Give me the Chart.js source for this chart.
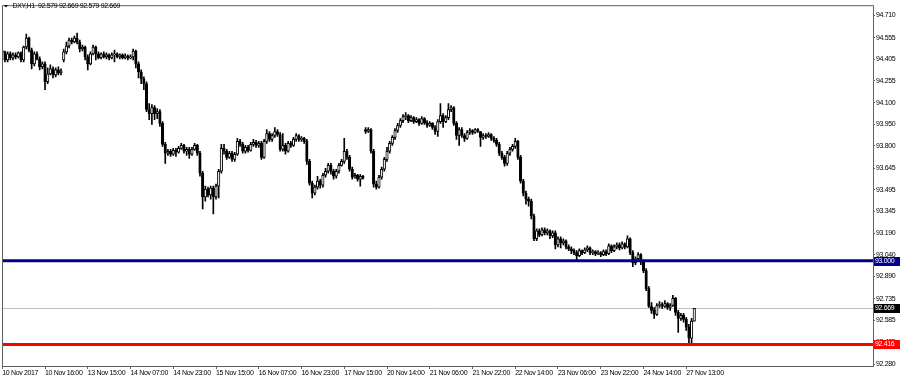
<!DOCTYPE html>
<html>
<head>
<meta charset="utf-8">
<title>DXY,H1</title>
<script src="https://cdn.jsdelivr.net/npm/chart.js@4.4.1/dist/chart.umd.min.js"></script>
<style>
	html, body { margin: 0; padding: 0; background: #fff; }
	#wrap { position: relative; width: 900px; height: 380px; }
</style>
</head>
<body>
<div id="wrap"><canvas id="grafico"></canvas></div>
<script>
var simbolo = 'DXY,H1';

var etiquetasX = ['10 Nov 2017', '10 Nov 16:00', '13 Nov 15:00', '14 Nov 07:00', '14 Nov 23:00', '15 Nov 15:00',
	'16 Nov 07:00', '16 Nov 23:00', '17 Nov 15:00', '20 Nov 14:00', '21 Nov 06:00', '21 Nov 22:00',
	'22 Nov 14:00', '23 Nov 06:00', '23 Nov 22:00', '24 Nov 14:00', '27 Nov 13:00'];
var barrasX = [0, 16, 32, 48, 64, 80, 96, 112, 128, 144, 160, 176, 192, 208, 224, 240, 256];

var ticksY = [94.710, 94.555, 94.405, 94.255, 94.100, 93.950, 93.800, 93.645, 93.495,
	93.345, 93.190, 93.040, 92.890, 92.735, 92.585, 92.435, 92.280];

var apertura = [
	94.462, 94.456, 94.400, 94.442, 94.414, 94.435, 94.421, 94.449, 94.400, 94.490,
	94.553, 94.469, 94.372, 94.442, 94.407, 94.352, 94.372, 94.248, 94.303, 94.338,
	94.296, 94.331, 94.310, 94.400, 94.456, 94.497, 94.539, 94.525, 94.553, 94.525,
	94.476, 94.490, 94.421, 94.372, 94.442, 94.490, 94.442, 94.414, 94.442, 94.421,
	94.435, 94.414, 94.435, 94.442, 94.421, 94.435, 94.414, 94.428, 94.414, 94.421,
	94.462, 94.372, 94.317, 94.268, 94.234, 94.054, 94.026, 94.067, 94.026, 94.040,
	93.957, 93.811, 93.749, 93.763, 93.742, 93.769, 93.756, 93.783, 93.804, 93.763,
	93.776, 93.742, 93.776, 93.804, 93.749, 93.610, 93.444, 93.499, 93.458, 93.506,
	93.444, 93.520, 93.624, 93.783, 93.763, 93.721, 93.749, 93.707, 93.742, 93.832,
	93.811, 93.763, 93.790, 93.769, 93.811, 93.825, 93.804, 93.818, 93.721, 93.832,
	93.887, 93.846, 93.873, 93.901, 93.880, 93.776, 93.804, 93.763, 93.818, 93.804,
	93.846, 93.873, 93.846, 93.853, 93.832, 93.693, 93.541, 93.471, 93.513, 93.555,
	93.527, 93.596, 93.624, 93.665, 93.624, 93.589, 93.624, 93.665, 93.693, 93.763,
	93.721, 93.638, 93.582, 93.596, 93.568, 93.589, 93.915, 93.901, 93.915, 93.763,
	93.534, 93.513, 93.582, 93.638, 93.707, 93.763, 93.818, 93.860, 93.908, 93.943,
	93.977, 94.005, 94.012, 93.977, 93.998, 93.970, 93.984, 93.957, 93.991, 93.963,
	93.943, 93.957, 93.929, 93.901, 93.970, 94.012, 93.970, 93.998, 94.054, 94.067,
	93.957, 93.873, 93.915, 93.873, 93.853, 93.894, 93.908, 93.894, 93.915, 93.901,
	93.860, 93.873, 93.866, 93.880, 93.853, 93.839, 93.811, 93.749, 93.721, 93.679,
	93.749, 93.776, 93.797, 93.832, 93.721, 93.555, 93.471, 93.430, 93.416, 93.312,
	93.153, 93.208, 93.180, 93.215, 93.194, 93.208, 93.173, 93.194, 93.111, 93.153,
	93.125, 93.139, 93.097, 93.083, 93.070, 93.056, 93.035, 93.070, 93.056, 93.076,
	93.090, 93.056, 93.063, 93.049, 93.056, 93.042, 93.063, 93.049, 93.104, 93.070,
	93.097, 93.111, 93.090, 93.118, 93.097, 93.153, 93.056, 92.986, 93.014, 93.042,
	92.993, 92.931, 92.806, 92.681, 92.654, 92.626, 92.688, 92.695, 92.681, 92.702,
	92.674, 92.688, 92.737, 92.640, 92.598, 92.619, 92.591, 92.536, 92.460, 92.579
];
var maximo = [
	94.476, 94.462, 94.456, 94.456, 94.449, 94.449, 94.456, 94.456, 94.497, 94.580,
	94.559, 94.483, 94.456, 94.456, 94.421, 94.386, 94.386, 94.345, 94.365, 94.352,
	94.345, 94.352, 94.338, 94.476, 94.525, 94.553, 94.553, 94.566, 94.587, 94.539,
	94.504, 94.497, 94.435, 94.456, 94.504, 94.497, 94.456, 94.449, 94.456, 94.449,
	94.442, 94.449, 94.469, 94.449, 94.442, 94.442, 94.442, 94.435, 94.435, 94.476,
	94.469, 94.386, 94.331, 94.282, 94.248, 94.095, 94.088, 94.081, 94.060, 94.054,
	93.970, 93.825, 93.776, 93.776, 93.783, 93.783, 93.797, 93.818, 93.811, 93.790,
	93.790, 93.790, 93.818, 93.811, 93.763, 93.624, 93.520, 93.513, 93.520, 93.520,
	93.534, 93.638, 93.811, 93.811, 93.776, 93.763, 93.763, 93.756, 93.853, 93.846,
	93.825, 93.804, 93.804, 93.825, 93.846, 93.839, 93.832, 93.832, 93.846, 93.915,
	93.901, 93.887, 93.929, 93.915, 93.894, 93.887, 93.818, 93.832, 93.832, 93.860,
	93.887, 93.880, 93.866, 93.860, 93.846, 93.707, 93.555, 93.527, 93.589, 93.568,
	93.610, 93.645, 93.679, 93.679, 93.638, 93.638, 93.679, 93.707, 93.853, 93.776,
	93.735, 93.652, 93.610, 93.603, 93.603, 93.596, 93.929, 93.929, 93.922, 93.776,
	93.555, 93.596, 93.652, 93.721, 93.790, 93.832, 93.873, 93.922, 93.957, 93.991,
	94.019, 94.033, 94.019, 94.012, 94.005, 93.998, 93.991, 94.005, 93.998, 93.977,
	93.970, 93.963, 93.943, 93.984, 94.095, 94.026, 94.012, 94.095, 94.081, 94.074,
	93.970, 93.929, 93.929, 93.887, 93.908, 93.922, 93.915, 93.922, 93.922, 93.901,
	93.887, 93.887, 93.894, 93.887, 93.866, 93.853, 93.825, 93.763, 93.735, 93.763,
	93.790, 93.811, 93.853, 93.839, 93.735, 93.568, 93.485, 93.444, 93.430, 93.326,
	93.222, 93.222, 93.229, 93.229, 93.222, 93.215, 93.208, 93.208, 93.167, 93.167,
	93.153, 93.146, 93.111, 93.097, 93.083, 93.070, 93.083, 93.076, 93.090, 93.104,
	93.097, 93.076, 93.070, 93.070, 93.063, 93.076, 93.076, 93.118, 93.111, 93.111,
	93.125, 93.125, 93.132, 93.125, 93.173, 93.160, 93.070, 93.028, 93.056, 93.049,
	93.007, 92.945, 92.820, 92.709, 92.674, 92.702, 92.716, 92.709, 92.723, 92.709,
	92.702, 92.758, 92.744, 92.654, 92.633, 92.633, 92.605, 92.557, 92.598, 92.669
];
var minimo = [
	94.442, 94.386, 94.386, 94.400, 94.400, 94.407, 94.414, 94.386, 94.386, 94.476,
	94.456, 94.338, 94.358, 94.400, 94.331, 94.338, 94.192, 94.234, 94.296, 94.275,
	94.282, 94.296, 94.296, 94.386, 94.442, 94.483, 94.511, 94.518, 94.511, 94.456,
	94.462, 94.400, 94.331, 94.365, 94.435, 94.400, 94.407, 94.407, 94.414, 94.407,
	94.400, 94.407, 94.386, 94.414, 94.407, 94.407, 94.407, 94.400, 94.407, 94.400,
	94.345, 94.275, 94.234, 94.192, 94.040, 93.984, 93.950, 93.984, 93.991, 93.936,
	93.797, 93.679, 93.735, 93.728, 93.735, 93.728, 93.749, 93.776, 93.749, 93.735,
	93.714, 93.735, 93.769, 93.735, 93.589, 93.361, 93.416, 93.444, 93.430, 93.326,
	93.430, 93.437, 93.610, 93.742, 93.707, 93.714, 93.693, 93.693, 93.735, 93.797,
	93.749, 93.749, 93.756, 93.763, 93.797, 93.790, 93.790, 93.707, 93.714, 93.818,
	93.832, 93.832, 93.860, 93.866, 93.763, 93.763, 93.742, 93.756, 93.790, 93.797,
	93.832, 93.832, 93.832, 93.818, 93.672, 93.527, 93.437, 93.458, 93.499, 93.506,
	93.513, 93.582, 93.610, 93.603, 93.568, 93.575, 93.610, 93.659, 93.679, 93.707,
	93.624, 93.568, 93.575, 93.555, 93.520, 93.568, 93.887, 93.894, 93.749, 93.513,
	93.499, 93.506, 93.568, 93.624, 93.693, 93.749, 93.804, 93.846, 93.894, 93.929,
	93.963, 93.984, 93.963, 93.970, 93.957, 93.963, 93.943, 93.950, 93.950, 93.929,
	93.936, 93.915, 93.880, 93.866, 93.957, 93.929, 93.963, 93.984, 94.040, 93.943,
	93.846, 93.804, 93.860, 93.832, 93.846, 93.880, 93.880, 93.887, 93.894, 93.797,
	93.846, 93.853, 93.860, 93.839, 93.825, 93.797, 93.735, 93.707, 93.659, 93.665,
	93.735, 93.763, 93.783, 93.707, 93.541, 93.451, 93.395, 93.381, 93.291, 93.139,
	93.139, 93.167, 93.173, 93.180, 93.180, 93.153, 93.160, 93.083, 93.097, 93.090,
	93.111, 93.083, 93.070, 93.049, 93.042, 93.000, 93.028, 93.042, 93.049, 93.063,
	93.042, 93.042, 93.035, 93.042, 93.028, 93.035, 93.035, 93.042, 93.056, 93.063,
	93.083, 93.076, 93.083, 93.083, 93.090, 93.042, 92.959, 92.972, 93.000, 92.972,
	92.917, 92.792, 92.674, 92.633, 92.598, 92.619, 92.674, 92.668, 92.674, 92.661,
	92.654, 92.681, 92.619, 92.501, 92.584, 92.571, 92.515, 92.416, 92.418, 92.579
];
var cierre = [
	94.456, 94.400, 94.442, 94.414, 94.435, 94.421, 94.449, 94.400, 94.490, 94.553,
	94.469, 94.372, 94.442, 94.407, 94.352, 94.372, 94.248, 94.303, 94.338, 94.296,
	94.331, 94.310, 94.324, 94.456, 94.497, 94.539, 94.525, 94.553, 94.525, 94.476,
	94.490, 94.421, 94.372, 94.442, 94.490, 94.442, 94.414, 94.442, 94.421, 94.435,
	94.414, 94.435, 94.442, 94.421, 94.435, 94.414, 94.428, 94.414, 94.421, 94.462,
	94.372, 94.317, 94.268, 94.234, 94.054, 94.026, 94.067, 94.026, 94.040, 93.957,
	93.811, 93.749, 93.763, 93.742, 93.769, 93.756, 93.783, 93.804, 93.763, 93.776,
	93.742, 93.776, 93.804, 93.749, 93.610, 93.444, 93.499, 93.458, 93.506, 93.444,
	93.520, 93.624, 93.783, 93.763, 93.721, 93.749, 93.707, 93.742, 93.832, 93.811,
	93.763, 93.790, 93.769, 93.811, 93.825, 93.804, 93.818, 93.721, 93.832, 93.887,
	93.846, 93.873, 93.901, 93.880, 93.776, 93.804, 93.763, 93.818, 93.804, 93.846,
	93.873, 93.846, 93.853, 93.832, 93.693, 93.541, 93.471, 93.513, 93.555, 93.527,
	93.596, 93.624, 93.665, 93.624, 93.589, 93.624, 93.665, 93.693, 93.763, 93.721,
	93.638, 93.582, 93.596, 93.568, 93.589, 93.575, 93.901, 93.915, 93.763, 93.534,
	93.513, 93.582, 93.638, 93.707, 93.763, 93.818, 93.860, 93.908, 93.943, 93.977,
	94.005, 94.012, 93.977, 93.998, 93.970, 93.984, 93.957, 93.991, 93.963, 93.943,
	93.957, 93.929, 93.901, 93.970, 94.012, 93.970, 93.998, 94.054, 94.067, 93.957,
	93.873, 93.915, 93.873, 93.853, 93.894, 93.908, 93.894, 93.915, 93.901, 93.860,
	93.873, 93.866, 93.880, 93.853, 93.839, 93.811, 93.749, 93.721, 93.679, 93.749,
	93.776, 93.797, 93.832, 93.721, 93.555, 93.471, 93.430, 93.416, 93.312, 93.153,
	93.208, 93.180, 93.215, 93.194, 93.208, 93.173, 93.194, 93.111, 93.153, 93.125,
	93.139, 93.097, 93.083, 93.070, 93.056, 93.035, 93.070, 93.056, 93.076, 93.090,
	93.056, 93.063, 93.049, 93.056, 93.042, 93.063, 93.049, 93.104, 93.070, 93.097,
	93.111, 93.090, 93.118, 93.097, 93.153, 93.056, 92.986, 93.014, 93.042, 92.993,
	92.931, 92.806, 92.681, 92.654, 92.626, 92.688, 92.695, 92.681, 92.702, 92.674,
	92.688, 92.737, 92.640, 92.598, 92.619, 92.591, 92.536, 92.460, 92.579, 92.669
];

// lineas horizontales: soporte azul y rojo
var niveles = [93.000, 92.416];

function hayFuente(nombre) {
	var c = document.createElement('canvas').getContext('2d');
	var txt = '10 Nov 16:00 92.890';
	c.font = '20px monospace';
	var a = c.measureText(txt).width;
	c.font = '20px "' + nombre + '", monospace';
	return c.measureText(txt).width !== a;
}
var angosta = hayFuente('Liberation Sans Narrow');
var fuente = angosta
	? {family: '"Liberation Sans Narrow"', size: 7.5}
	: {family: '"Liberation Sans", Arial, sans-serif', size: 7};
var espaciado = angosta ? '0px' : '-0.35px';
var fuenteCss = fuente.size + 'px ' + fuente.family;

var mechas = [], velas = [];
for (var i = 0; i < cierre.length; i++) {
	mechas.push({x: i, y: [minimo[i], maximo[i]]});
	velas.push({x: i, y: [apertura[i], cierre[i]]});
}

function etiqueta(ctx, x, y, texto, fondo) {
	ctx.fillStyle = fondo;
	ctx.fillRect(x, Math.round(y) - 4, 900 - x, 9);
	ctx.fillStyle = '#ffffff';
	ctx.textAlign = 'left';
	ctx.textBaseline = 'middle';
	ctx.fillText(texto, x + 1, Math.round(y) + 0.5);
}

var extras = {
	id: 'extras',
	beforeDraw: function(chart) {
		// texto un poco mas angosto, como el de MT4
		chart.ctx.letterSpacing = espaciado;
	},
	beforeDatasetsDraw: function(chart) {
		var ctx = chart.ctx, a = chart.chartArea, y = chart.scales.y;
		var yb = Math.round(y.getPixelForValue(cierre[cierre.length - 1])) + 0.5;
		ctx.save();
		ctx.strokeStyle = '#b8c0cc';
		ctx.lineWidth = 1;
		ctx.beginPath();
		ctx.moveTo(a.left, yb);
		ctx.lineTo(a.right, yb);
		ctx.stroke();
		ctx.restore();
	},
	afterDatasetsDraw: function(chart) {
		var ctx = chart.ctx, a = chart.chartArea, y = chart.scales.y;
		var colores = ['#00008b', '#ff0000'];
		ctx.save();
		ctx.lineWidth = 3;
		for (var k = 0; k < niveles.length; k++) {
			var yp = y.getPixelForValue(niveles[k]);
			ctx.strokeStyle = colores[k];
			ctx.beginPath();
			ctx.moveTo(a.left, yp);
			ctx.lineTo(a.right, yp);
			ctx.stroke();
		}
		ctx.restore();
	},
	afterDraw: function(chart) {
		var ctx = chart.ctx, a = chart.chartArea, y = chart.scales.y;
		var n = cierre.length - 1;
		ctx.save();
		ctx.strokeStyle = '#606060';
		ctx.lineWidth = 1;
		ctx.strokeRect(a.left + 0.5, a.top + 0.5, a.right - a.left, a.bottom - a.top);

		ctx.font = fuenteCss;
		etiqueta(ctx, a.right + 1, y.getPixelForValue(niveles[0]), niveles[0].toFixed(3), '#00008b');
		etiqueta(ctx, a.right + 1, y.getPixelForValue(cierre[n]), cierre[n].toFixed(3), '#000000');
		etiqueta(ctx, a.right + 1, y.getPixelForValue(niveles[1]), niveles[1].toFixed(3), '#ff0000');

		// titulo: simbolo y OHLC de la ultima vela
		ctx.fillStyle = '#000000';
		ctx.beginPath();
		ctx.moveTo(4, 5);
		ctx.lineTo(8, 5);
		ctx.lineTo(6, 7.5);
		ctx.closePath();
		ctx.fill();
		ctx.textAlign = 'left';
		ctx.textBaseline = 'middle';
		var titulo = simbolo + '  ' + [apertura[n], maximo[n], minimo[n], cierre[n]].map(function(v) { return v.toFixed(3); }).join(' ');
		ctx.fillText(titulo, 12.5, 6.5);
		ctx.restore();
	}
};

var config = {
	type: 'bar',
	data: {
		datasets: [{
			label: 'mechas',
			data: mechas,
			backgroundColor: '#000000',
			borderWidth: 0,
			barThickness: 1,
			grouped: false,
			order: 2
		}, {
			label: 'velas',
			data: velas,
			backgroundColor: function(c) {
				var i = c.dataIndex;
				return cierre[i] >= apertura[i] ? '#ffffff' : '#000000';
			},
			borderColor: '#000000',
			borderWidth: 1,
			borderSkipped: false,
			barThickness: 2.5,
			minBarLength: 1,
			grouped: false,
			order: 1
		}]
	},
	options: {
		responsive: true,
		maintainAspectRatio: false,
		animation: false,
		events: [],
		layout: {padding: {left: 2, top: 3, right: 0, bottom: 0}},
		plugins: {legend: {display: false}, tooltip: {enabled: false}},
		scales: {
			x: {
				type: 'linear',
				min: -0.1,
				max: 325.9,
				offset: false,
				grid: {offset: false, drawOnChartArea: false, drawTicks: true, tickLength: 3, color: '#606060'},
				border: {display: false},
				afterBuildTicks: function(s) {
					s.ticks = barrasX.map(function(v) { return {value: v}; });
				},
				afterFit: function(s) { s.height = 14; },
				ticks: {
					autoSkip: false,
					maxRotation: 0,
					align: 'start',
					padding: 0,
					color: '#000000',
					font: fuente,
					callback: function(v, k) { return etiquetasX[k]; }
				}
			},
			y: {
				type: 'linear',
				position: 'right',
				min: 92.2661,
				max: 94.7814,
				grid: {drawOnChartArea: false, drawTicks: true, tickLength: 2, color: '#606060'},
				border: {display: false},
				afterBuildTicks: function(s) {
					s.ticks = ticksY.map(function(v) { return {value: v}; });
				},
				afterFit: function(s) { s.width = 27; },
				ticks: {
					autoSkip: false,
					padding: 1,
					color: '#000000',
					font: fuente,
					callback: function(v) { return v.toFixed(3); }
				}
			}
		}
	},
	plugins: [extras]
};

window.myChart = new Chart(document.getElementById('grafico').getContext('2d'), config);
</script>
</body>
</html>
